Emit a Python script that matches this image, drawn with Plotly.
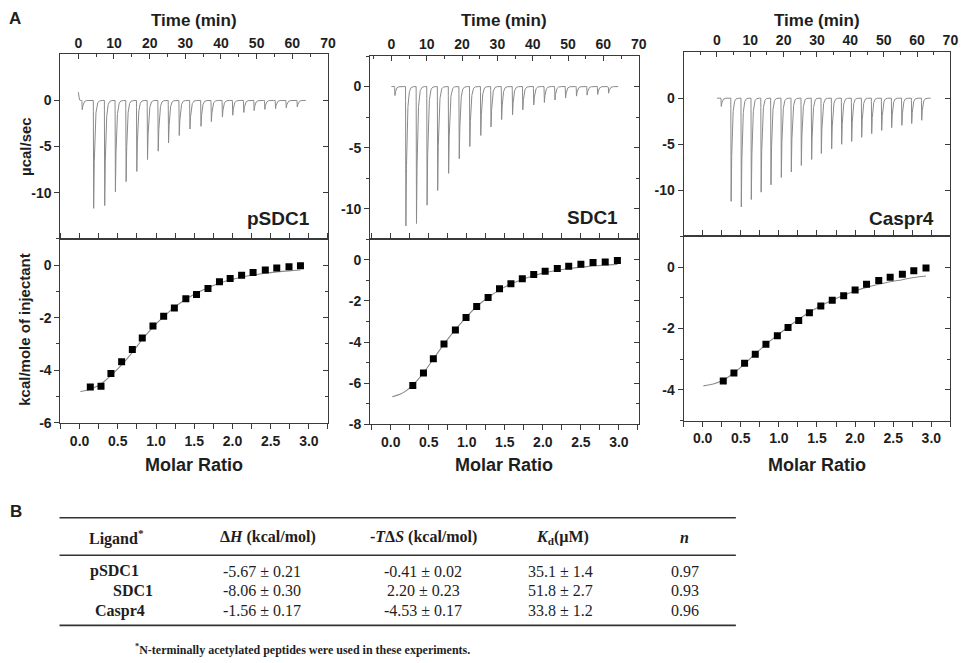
import numpy as np
import plotly.graph_objects as go

W, H = 969, 663

# ---------------- data ----------------
ligands = ["pSDC1", "SDC1", "Caspr4"]

# thermogram injections (min) and peak heights (ucal/sec)
inj_time_pSDC1 = [1.0, 4.2, 7.3, 10.3, 13.3, 16.3, 19.3, 22.3, 25.2, 28.2, 31.2,
                  34.3, 37.2, 40.3, 43.2, 46.3, 49.2, 52.2, 55.2, 58.2, 61.3]
peak_pSDC1 = [-1.0, -11.7, -11.4, -9.9, -8.8, -7.7, -6.4, -5.5, -4.6, -3.8, -3.1,
              -2.8, -2.3, -1.8, -1.6, -1.3, -1.1, -0.97, -0.9, -0.8, -0.7]
inj_time_SDC1 = [0.9, 4.0, 7.0, 10.0, 13.0, 16.1, 19.1, 22.1, 25.2, 28.1, 31.1,
                 34.2, 37.1, 40.2, 43.2, 46.2, 49.2, 52.3, 55.3, 58.3, 61.4]
peak_SDC1 = [-0.73, -11.4, -11.2, -9.7, -8.5, -7.1, -5.9, -4.9, -4.0, -3.3, -2.7,
             -2.3, -1.9, -1.5, -1.3, -1.1, -0.94, -0.78, -0.70, -0.65, -0.54]
inj_time_Caspr4 = [1.2, 4.15, 7.2, 10.2, 13.15, 16.1, 19.2, 22.2, 25.2, 28.3, 31.2,
                   34.3, 37.3, 40.3, 43.3, 46.3, 49.3, 52.3, 55.35, 58.3, 61.3]
peak_Caspr4 = [-0.9, -11.2, -11.8, -11.0, -10.2, -9.4, -8.6, -8.0, -7.3, -6.65, -6.0,
               -5.5, -5.0, -4.7, -4.25, -3.85, -3.5, -3.2, -2.95, -2.75, -2.4]
run_end = [63.8, 64.2, 64.1]
start_spike = [0.9, 0.0, 0.0]

# integrated heats (kcal/mole of injectant) vs molar ratio
ratio_pSDC1 = [0.14, 0.28, 0.41, 0.55, 0.69, 0.82, 0.96, 1.10, 1.24, 1.39, 1.53,
               1.68, 1.83, 1.97, 2.12, 2.27, 2.43, 2.58, 2.74, 2.89]
heat_pSDC1 = [-4.64, -4.61, -4.12, -3.68, -3.21, -2.77, -2.32, -1.95, -1.63, -1.28, -1.12,
              -0.89, -0.63, -0.51, -0.39, -0.28, -0.19, -0.11, -0.06, -0.03]
ratio_SDC1 = [0.29, 0.43, 0.56, 0.70, 0.85, 0.99, 1.13, 1.28, 1.43, 1.58, 1.73,
              1.88, 2.03, 2.19, 2.34, 2.50, 2.66, 2.82, 2.98]
heat_SDC1 = [-6.12, -5.51, -4.82, -4.10, -3.41, -2.81, -2.27, -1.83, -1.41, -1.16, -0.92,
             -0.71, -0.55, -0.42, -0.31, -0.21, -0.13, -0.10, -0.03]
ratio_Caspr4 = [0.27, 0.41, 0.55, 0.69, 0.83, 0.98, 1.12, 1.26, 1.40, 1.55, 1.70,
                1.85, 2.00, 2.15, 2.31, 2.46, 2.62, 2.77, 2.93]
heat_Caspr4 = [-3.71, -3.45, -3.13, -2.84, -2.51, -2.24, -1.97, -1.74, -1.49, -1.27, -1.08,
               -0.93, -0.75, -0.56, -0.44, -0.33, -0.23, -0.12, -0.03]

# fitted curves
fit_x_pSDC1 = [0.01, 0.14, 0.28, 0.41, 0.55, 0.69, 0.82, 0.96, 1.10, 1.24, 1.39, 1.53,
               1.68, 1.83, 1.97, 2.12, 2.27, 2.43, 2.58, 2.74, 2.89]
fit_y_pSDC1 = [-4.81, -4.72, -4.52, -4.20, -3.80, -3.32, -2.83, -2.36, -1.96, -1.61, -1.30, -1.06,
               -0.86, -0.69, -0.56, -0.46, -0.38, -0.31, -0.26, -0.22, -0.19]
fit_x_SDC1 = [0.02, 0.12, 0.20, 0.29, 0.43, 0.56, 0.70, 0.85, 0.99, 1.13, 1.28, 1.43, 1.58,
              1.73, 1.88, 2.03, 2.19, 2.34, 2.50, 2.66, 2.82, 2.98]
fit_y_SDC1 = [-6.67, -6.55, -6.38, -6.10, -5.50, -4.83, -4.10, -3.40, -2.80, -2.27, -1.83, -1.46,
              -1.17, -0.95, -0.77, -0.62, -0.51, -0.42, -0.35, -0.30, -0.25, -0.22]
fit_x_Caspr4 = [0.01, 0.15, 0.27, 0.41, 0.55, 0.69, 0.83, 0.98, 1.12, 1.26, 1.40, 1.55, 1.70,
                1.85, 2.00, 2.15, 2.31, 2.46, 2.62, 2.77, 2.93]
fit_y_Caspr4 = [-3.87, -3.80, -3.68, -3.45, -3.15, -2.83, -2.52, -2.22, -1.95, -1.70, -1.47, -1.26,
                -1.08, -0.92, -0.78, -0.66, -0.56, -0.48, -0.41, -0.34, -0.29]

# table
tbl_dH = ["-5.67 ± 0.21", "-8.06 ± 0.30", "-1.56 ± 0.17"]
tbl_TdS = ["-0.41 ± 0.02", "2.20 ± 0.23", "-4.53 ± 0.17"]
tbl_Kd = ["35.1 ± 1.4", "51.8 ± 2.7", "33.8 ± 1.2"]
tbl_n = ["0.97", "0.93", "0.96"]
tbl_headers = ["Ligand<sup>*</sup>", "Δ<i>H</i> (kcal/mol)", "-<i>T</i>Δ<i>S</i> (kcal/mol)",
               "<i>K</i><sub>d</sub>(µM)", "<i>n</i>"]
footnote = "<sup>*</sup>N-terminally acetylated peptides were used in these experiments."

# ---------------- layout constants (pixels) ----------------
panels = [
    dict(left=61, right=330.7, ttop=55, mid=241.7, bbot=428,
         trange=[-5, 70], yr_top=[-15, 5], xr_bot=[-0.25, 3.25], yr_bot=[-6, 1],
         yt_top=[-10, -5, 0], ym_top=None, yt_bot=[-6, -4, -2, 0], ym_bot=1,
         lab_x=315, lab_y=221),
    dict(left=373.3, right=644, ttop=56.7, mid=242.3, bbot=429.3,
         trange=[-6, 70], yr_top=[-12.5, 2.5], xr_bot=[-0.27, 3.26], yr_bot=[-8, 1],
         yt_top=[-10, -5, 0], ym_top=2.5, yt_bot=[-8, -6, -4, -2, 0], ym_bot=1,
         lab_x=625, lab_y=220),
    dict(left=689.3, right=958.3, ttop=52.7, mid=239.3, bbot=425.7,
         trange=[-10, 70], yr_top=[-15, 5], xr_bot=[-0.25, 3.25], yr_bot=[-5, 1],
         yt_top=[-10, -5, 0], ym_top=None, yt_bot=[-4, -2, 0], ym_bot=1,
         lab_x=944, lab_y=221),
]

therm = [(inj_time_pSDC1, peak_pSDC1), (inj_time_SDC1, peak_SDC1), (inj_time_Caspr4, peak_Caspr4)]
points = [(ratio_pSDC1, heat_pSDC1), (ratio_SDC1, heat_SDC1), (ratio_Caspr4, heat_Caspr4)]
fits = [(fit_x_pSDC1, fit_y_pSDC1), (fit_x_SDC1, fit_y_SDC1), (fit_x_Caspr4, fit_y_Caspr4)]


def px_x(p):
    return p / W


def px_y(p):
    return 1 - p / H


def thermogram(times, peaks, t_end, spike):
    t = np.arange(0.0, t_end, 0.01)
    y = spike * np.exp(-t / 0.12)
    rise, tau = 0.10, 0.30
    for ti, d in zip(times, peaks):
        dt = t - ti
        s = np.where(dt < 0, 0.0, np.where(dt < rise, dt / rise, np.exp(-(dt - rise) / tau)))
        y = y + d * s
    return t, y


AX = "#3a3a3a"
TXT = "#1e1e1e"
LINEC = "#8a8a8a"

fig = go.Figure()
layout = dict(
    width=W, height=H, autosize=False,
    margin=dict(l=0, r=0, t=0, b=0),
    paper_bgcolor="white", plot_bgcolor="white",
    showlegend=False,
    font=dict(family="Liberation Sans, Arial, sans-serif", size=14, color=TXT, weight="bold"),
)
annotations = []
shapes = []

for i, p in enumerate(panels):
    n_top = 2 * i + 1
    n_bot = 2 * i + 2
    n_rt = 7 + 2 * i
    n_rb = 8 + 2 * i

    def nm(k, kind):
        return kind + ("axis" if k == 1 else "axis%d" % k)

    def ref(k, kind):
        return kind + ("" if k == 1 else str(k))

    xdom = [px_x(p["left"]), px_x(p["right"])]
    ydom_top = [px_y(p["mid"]), px_y(p["ttop"])]
    ydom_bot = [px_y(p["bbot"]), px_y(p["mid"])]

    # top panel: time axis on top, ticks inside
    layout[nm(n_top, "x")] = dict(
        domain=xdom, range=p["trange"], side="top", anchor=ref(n_top, "y"),
        showline=True, linecolor=AX, linewidth=1.2, mirror=True,
        ticks="inside", ticklen=5, tickwidth=1.2, tickcolor=AX,
        tickvals=list(range(0, 71, 10)), ticktext=[str(v) for v in range(0, 71, 10)],
        minor=dict(dtick=5, tick0=0, ticks="inside", ticklen=3, tickcolor=AX, tickwidth=1.1),
        showgrid=False, zeroline=False, tickfont=dict(size=14, weight="bold"),
    )
    ytop = dict(
        domain=ydom_top, range=p["yr_top"], anchor=ref(n_top, "x"),
        showline=True, linecolor=AX, linewidth=1.2, mirror=True,
        ticks="outside", ticklen=5, tickwidth=1.2, tickcolor=AX,
        tickvals=p["yt_top"], ticktext=[str(v) for v in p["yt_top"]],
        showgrid=False, zeroline=False, tickfont=dict(size=14, weight="bold"),
    )
    if p["ym_top"]:
        ytop["minor"] = dict(dtick=p["ym_top"], tick0=0, ticks="outside", ticklen=3,
                             tickcolor=AX, tickwidth=1.1)
    layout[nm(n_top, "y")] = ytop

    # bottom panel
    layout[nm(n_bot, "x")] = dict(
        domain=xdom, range=p["xr_bot"], anchor=ref(n_bot, "y"),
        showline=True, linecolor=AX, linewidth=1.2, mirror="allticks",
        ticks="outside", ticklen=5, tickwidth=1.2, tickcolor=AX,
        tickvals=[0, 0.5, 1, 1.5, 2, 2.5, 3],
        ticktext=["0.0", "0.5", "1.0", "1.5", "2.0", "2.5", "3.0"],
        minor=dict(dtick=0.25, tick0=0, ticks="outside", ticklen=3, tickcolor=AX, tickwidth=1.1),
        showgrid=False, zeroline=False, tickfont=dict(size=14, weight="bold"),
    )
    layout[nm(n_bot, "y")] = dict(
        domain=ydom_bot, range=p["yr_bot"], anchor=ref(n_bot, "x"),
        showline=True, linecolor=AX, linewidth=1.2, mirror=True,
        ticks="outside", ticklen=5, tickwidth=1.2, tickcolor=AX,
        tickvals=p["yt_bot"], ticktext=[str(v) for v in p["yt_bot"]],
        minor=dict(dtick=p["ym_bot"], tick0=0, ticks="outside", ticklen=3, tickcolor=AX, tickwidth=1.1),
        showgrid=False, zeroline=False, tickfont=dict(size=14, weight="bold"),
    )

    # right-side inside ticks (overlay axes)
    rt = dict(overlaying=ref(n_top, "y"), side="right", anchor=ref(n_top, "x"),
              range=p["yr_top"], showline=False, ticks="inside", ticklen=5, tickwidth=1.2,
              tickcolor=AX, tickvals=p["yt_top"], showticklabels=False,
              showgrid=False, zeroline=False)
    if p["ym_top"]:
        rt["minor"] = dict(dtick=p["ym_top"], tick0=0, ticks="inside", ticklen=3,
                           tickcolor=AX, tickwidth=1.1)
    layout[nm(n_rt, "y")] = rt
    layout[nm(n_rb, "y")] = dict(
        overlaying=ref(n_bot, "y"), side="right", anchor=ref(n_bot, "x"),
        range=p["yr_bot"], showline=False, ticks="inside", ticklen=5, tickwidth=1.2,
        tickcolor=AX, tickvals=p["yt_bot"], showticklabels=False,
        minor=dict(dtick=p["ym_bot"], tick0=0, ticks="inside", ticklen=3, tickcolor=AX, tickwidth=1.1),
        showgrid=False, zeroline=False)

    # traces
    t, y = thermogram(therm[i][0], therm[i][1], run_end[i], start_spike[i])
    fig.add_trace(go.Scatter(x=t, y=y, mode="lines", line=dict(color=LINEC, width=1),
                             xaxis=ref(n_top, "x"), yaxis=ref(n_top, "y"), hoverinfo="skip"))
    fig.add_trace(go.Scatter(x=fits[i][0], y=fits[i][1], mode="lines",
                             line=dict(color=LINEC, width=1.1, shape="spline"),
                             xaxis=ref(n_bot, "x"), yaxis=ref(n_bot, "y"), hoverinfo="skip"))
    fig.add_trace(go.Scatter(x=points[i][0], y=points[i][1], mode="markers",
                             marker=dict(symbol="square", size=7, color="black"),
                             xaxis=ref(n_bot, "x"), yaxis=ref(n_bot, "y")))
    fig.add_trace(go.Scatter(x=[None], y=[None], xaxis=ref(n_top, "x"), yaxis=ref(n_rt, "y")))
    fig.add_trace(go.Scatter(x=[None], y=[None], xaxis=ref(n_bot, "x"), yaxis=ref(n_rb, "y")))

    # axis titles and panel label
    cx = (p["left"] + p["right"]) / 2
    annotations.append(dict(x=px_x(cx), y=px_y(21), xref="paper", yref="paper",
                            text="Time (min)", showarrow=False, xanchor="center", yanchor="middle",
                            font=dict(size=17, weight="bold")))
    annotations.append(dict(x=px_x(cx), y=px_y(471), xref="paper", yref="paper",
                            text="Molar Ratio", showarrow=False, xanchor="center", yanchor="middle",
                            font=dict(size=18, weight="bold")))
    annotations.append(dict(x=px_x(p["lab_x"]), y=px_y(p["lab_y"]), xref="paper", yref="paper",
                            text=ligands[i], showarrow=False, xanchor="right", yanchor="middle",
                            font=dict(size=19, weight="bold")))

annotations.append(dict(x=px_x(25), y=px_y(148), xref="paper", yref="paper", text="µcal/sec",
                        textangle=-90, showarrow=False, xanchor="center", yanchor="middle",
                        font=dict(size=15, weight="bold")))
annotations.append(dict(x=px_x(25), y=px_y(333), xref="paper", yref="paper",
                        text="kcal/mole of injectant", textangle=-90, showarrow=False,
                        xanchor="center", yanchor="middle", font=dict(size=15, weight="bold")))
annotations.append(dict(x=px_x(15), y=px_y(19), xref="paper", yref="paper", text="A",
                        showarrow=False, xanchor="center", yanchor="middle",
                        font=dict(size=17, weight="bold")))
annotations.append(dict(x=px_x(16), y=px_y(518), xref="paper", yref="paper", text="B",
                        showarrow=False, xanchor="center", yanchor="middle",
                        font=dict(size=17, weight="bold")))

# ---------------- table ----------------
SERIF = "Liberation Serif, Times New Roman, serif"
tbl_left, tbl_right = 60, 742
for yy, lw in [(524, 1.6), (562, 1.4), (633, 1.6)]:
    shapes.append(dict(type="line", xref="paper", yref="paper",
                       x0=px_x(tbl_left), x1=px_x(tbl_right), y0=px_y(yy), y1=px_y(yy),
                       line=dict(color="#333333", width=lw)))

col_x = [117, 270, 427, 567, 690]
for hx, htxt in zip(col_x, tbl_headers):
    annotations.append(dict(x=px_x(hx), y=px_y(544), xref="paper", yref="paper", text=htxt,
                            showarrow=False, xanchor="center", yanchor="middle",
                            font=dict(family=SERIF, size=16, weight="bold", color=TXT)))

row_y = [578, 598, 618]
name_x = [115, 134, 121]
for r in range(3):
    annotations.append(dict(x=px_x(name_x[r]), y=px_y(row_y[r]), xref="paper", yref="paper",
                            text=ligands[r], showarrow=False, xanchor="center", yanchor="middle",
                            font=dict(family=SERIF, size=16, weight="bold", color=TXT)))
    for cx, vals in zip([264, 427, 565, 691], [tbl_dH, tbl_TdS, tbl_Kd, tbl_n]):
        annotations.append(dict(x=px_x(cx), y=px_y(row_y[r]), xref="paper", yref="paper",
                                text=vals[r], showarrow=False, xanchor="center", yanchor="middle",
                                font=dict(family=SERIF, size=16, weight="normal", color=TXT)))

annotations.append(dict(x=px_x(134), y=px_y(657), xref="paper", yref="paper", text=footnote,
                        showarrow=False, xanchor="left", yanchor="middle",
                        font=dict(family=SERIF, size=12, weight="bold", color=TXT)))

layout["annotations"] = annotations
layout["shapes"] = shapes
fig.update_layout(**layout)
fig.write_html("out.html")
